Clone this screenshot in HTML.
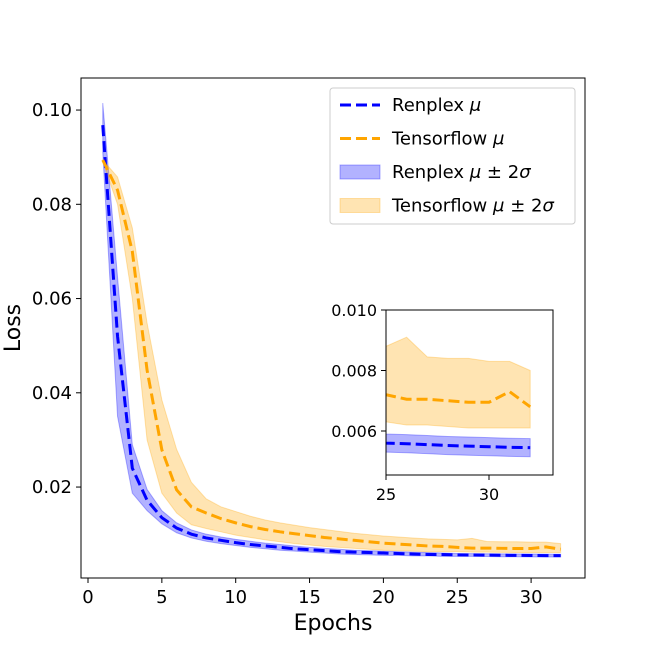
<!DOCTYPE html>
<html><head><meta charset="utf-8"><style>
body{margin:0;background:#fff;}
svg text{font-family:"DejaVu Sans","Liberation Sans",sans-serif;fill:#000;}
</style></head><body>
<svg id="chart" width="650" height="650" xmlns="http://www.w3.org/2000/svg">
<rect width="650" height="650" fill="#fff"/>
<g id="main"></g>
<g id="inset"></g>
</svg>
<script>
const epochs=[1,2,3,4,5,6,7,8,9,10,11,12,13,14,15,16,17,18,19,20,21,22,23,24,25,26,27,28,29,30,31,32];
const renMean=[0.0968,0.052,0.024,0.0172,0.0135,0.0113,0.0100,0.0092,0.0087,0.0082,0.0078,0.0075,0.0072,0.0069,0.0067,0.0065,0.0063,0.0062,0.0061,0.0060,0.0059,0.0058,0.0057,0.0057,0.0056,0.00558,0.00555,0.00552,0.0055,0.00548,0.00546,0.00545];
const renUpper=[0.1015,0.0645,0.029,0.0195,0.0150,0.0124,0.0109,0.0100,0.0094,0.0089,0.0085,0.0081,0.0078,0.0075,0.0072,0.0070,0.0068,0.0066,0.0065,0.0064,0.0063,0.0062,0.0061,0.0060,0.0059,0.00588,0.00585,0.00582,0.0058,0.00578,0.00576,0.00575];
const renLower=[0.091,0.035,0.0187,0.0150,0.0122,0.0103,0.0092,0.0085,0.0080,0.0076,0.0072,0.0069,0.0066,0.0064,0.0062,0.0060,0.0058,0.0057,0.0056,0.0055,0.0055,0.0054,0.0054,0.0053,0.0053,0.00528,0.00525,0.00522,0.0052,0.00518,0.00516,0.00515];
const tfMean=[0.0894,0.083,0.070,0.0448,0.0279,0.0194,0.0158,0.0145,0.0133,0.0124,0.0116,0.0110,0.0105,0.0101,0.0097,0.0093,0.0090,0.0087,0.0084,0.0081,0.0079,0.0077,0.0075,0.0074,0.0072,0.00705,0.00705,0.0070,0.00695,0.00695,0.0073,0.0068];
const tfUpper=[0.0894,0.0858,0.075,0.0548,0.0385,0.028,0.021,0.0175,0.0158,0.0148,0.0138,0.0130,0.0124,0.0119,0.0114,0.0110,0.0106,0.0102,0.0099,0.0096,0.0094,0.0092,0.0090,0.0089,0.0088,0.0091,0.00845,0.0084,0.0084,0.0083,0.0083,0.0080];
const tfLower=[0.089,0.080,0.060,0.030,0.0187,0.0145,0.0120,0.0112,0.0105,0.0098,0.0093,0.0088,0.0084,0.0080,0.0077,0.0074,0.0072,0.0070,0.0068,0.0066,0.0065,0.0064,0.0063,0.0063,0.0063,0.0062,0.0062,0.00615,0.0061,0.0061,0.0061,0.0061];
const xTicks=[0,5,10,15,20,25,30];
const yTicks=[0.02,0.04,0.06,0.08,0.10];
const yTickLabels=["0.02","0.04","0.06","0.08","0.10"];
const inXTicks=[25,30];
const inYTicks=[0.006,0.008,0.010];
const inYTickLabels=["0.006","0.008","0.010"];
const NS="http://www.w3.org/2000/svg";
function mk(parent,tag,attrs,txt){const e=document.createElementNS(NS,tag);for(const k in attrs)e.setAttribute(k,attrs[k]);if(txt!==undefined)e.textContent=txt;parent.appendChild(e);return e;}
function drawPanel(g,box,xs,ys,opts){
  const clipId=opts.id+"-clip";
  const defs=mk(g,"defs",{});const cp=mk(defs,"clipPath",{id:clipId});
  mk(cp,"rect",{x:box.l,y:box.t,width:box.r-box.l,height:box.b-box.t});
  const body=mk(g,"g",{"clip-path":"url(#"+clipId+")"});
  function band(up,lo,color,name){
    let d="M"+epochs.map((e,i)=>xs(e)+","+ys(up[i])).join("L");
    for(let i=epochs.length-1;i>=0;i--)d+="L"+xs(epochs[i])+","+ys(lo[i]);
    const p=mk(body,"path",{d:d+"Z",fill:color,"fill-opacity":opts.id==="main"?0.3:0.3,stroke:color,"stroke-opacity":0.3,"stroke-width":1});
    
    
  }
  function line(v,color,name){
    const p=mk(body,"path",{d:"M"+epochs.map((e,i)=>xs(e)+","+ys(v[i])).join("L"),fill:"none",stroke:color,"stroke-width":3,"stroke-dasharray":"11,5"});
    
    
  }
  band(renUpper,renLower,"#0000ff","renplex-band");
  band(tfUpper,tfLower,"#ffa500","tensorflow-band");
  line(renMean,"#0000ff","renplex-mean-line");
  line(tfMean,"#ffa500","tensorflow-mean-line");
  mk(g,"rect",{x:box.l,y:box.t,width:box.r-box.l,height:box.b-box.t,fill:"none",stroke:"#000","stroke-width":1});
  opts.xt.forEach(t=>{const x=xs(t);mk(g,"line",{x1:x,x2:x,y1:box.b,y2:box.b+5,stroke:"#000"});
    const tx=mk(g,"text",{x:x,y:box.b+25,"text-anchor":"middle","font-size":opts.fs},String(t));
    });
  opts.yt.forEach((t,i)=>{const y=ys(t);mk(g,"line",{x1:box.l-5,x2:box.l,y1:y,y2:y,stroke:"#000"});
    const tx=mk(g,"text",{x:box.l-9,y:y+6,"text-anchor":"end","font-size":opts.fs},opts.yl[i]);
    });
}
const main=document.getElementById("main");


drawPanel(main,{l:81,r:585,t:78,b:578},e=>88+e*14.77,v=>581.3-v*4712.5,{id:"main",xt:xTicks,yt:yTicks,yl:yTickLabels,fs:18});
const inset=document.getElementById("inset");


drawPanel(inset,{l:386,r:553,t:310,b:475},e=>386+(e-25)*20.6,v=>310+(0.010-v)*30250,{id:"inset",xt:inXTicks,yt:inYTicks,yl:inYTickLabels,fs:16});
// axis titles
let t=mk(main,"text",{x:333,y:630,"text-anchor":"middle","font-size":22},"Epochs");

t=mk(main,"text",{x:0,y:0,"text-anchor":"middle","font-size":22,transform:"translate(20,328) rotate(-90)"},"Loss");

// legend
const lg=mk(main,"g",{});


mk(lg,"rect",{x:330,y:88,width:245,height:136,rx:3,fill:"#fff",stroke:"#ccc","fill-opacity":0.85});
const entries=[["line","#0000ff","Renplex μ","legend-renplex-mean"],["line","#ffa500","Tensorflow μ","legend-tensorflow-mean"],["band","#0000ff","Renplex μ ± 2σ","legend-renplex-band"],["band","#ffa500","Tensorflow μ ± 2σ","legend-tensorflow-band"]];
entries.forEach((en,i)=>{const y=105+i*33.5;const eg=mk(lg,"g",{});
  
  if(en[0]==="line")mk(eg,"line",{x1:340,x2:380,y1:y,y2:y,stroke:en[1],"stroke-width":3,"stroke-dasharray":"11,5"});
  else mk(eg,"rect",{x:340,y:y-7,width:40,height:14,fill:en[1],"fill-opacity":0.3,stroke:en[1],"stroke-opacity":0.3});
  const parts=en[2].split(" ");
  const tx=mk(eg,"text",{x:392,y:y+6,"font-size":18});
  tx.innerHTML=en[2].replace(/μ/,'<tspan font-style="italic">μ</tspan>').replace(/σ/,'<tspan font-style="italic">σ</tspan>');
});
</script>
</body></html>
